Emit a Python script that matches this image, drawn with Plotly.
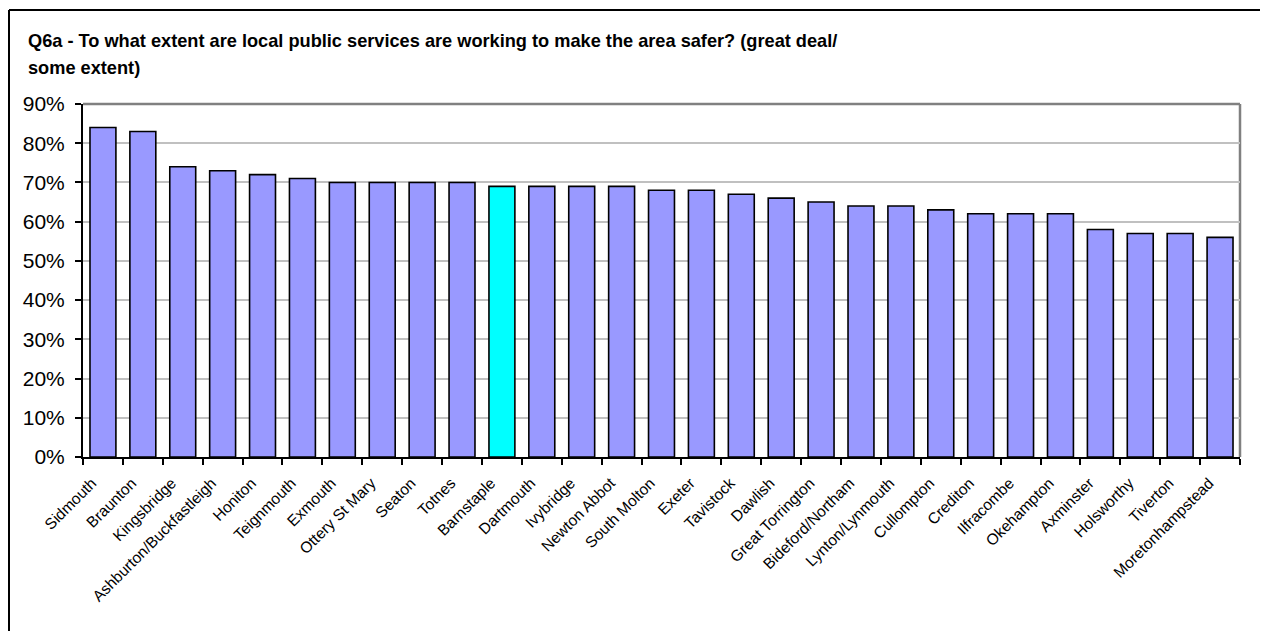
import plotly.graph_objects as go

categories = ["Sidmouth", "Braunton", "Kingsbridge", "Ashburton/Buckfastleigh", "Honiton",
              "Teignmouth", "Exmouth", "Ottery St Mary", "Seaton", "Totnes", "Barnstaple",
              "Dartmouth", "Ivybridge", "Newton Abbot", "South Molton", "Exeter", "Tavistock",
              "Dawlish", "Great Torrington", "Bideford/Northam", "Lynton/Lynmouth", "Cullompton",
              "Crediton", "Ilfracombe", "Okehampton", "Axminster", "Holsworthy", "Tiverton",
              "Moretonhampstead"]
values = [0.84, 0.83, 0.74, 0.73, 0.72, 0.71, 0.70, 0.70, 0.70, 0.70, 0.69,
          0.69, 0.69, 0.69, 0.68, 0.68, 0.67, 0.66, 0.65, 0.64, 0.64, 0.63,
          0.62, 0.62, 0.62, 0.58, 0.57, 0.57, 0.56]
highlight = "Barnstaple"
y_ticks = [0, 0.1, 0.2, 0.3, 0.4, 0.5, 0.6, 0.7, 0.8, 0.9]
title_line1 = "Q6a - To what extent are local public services are working to make the area safer? (great deal/"
title_line2 = "some extent)"

colors = ["#00FFFF" if c == highlight else "#9999FF" for c in categories]

FONT = "Liberation Sans, Arial, sans-serif"
OFF = 8  # page body margin
W, H = 1268 - OFF, 631 - OFF
# target screen coordinates of the plot area
L, R, T, B = 83, 1240, 104, 457
pw, ph = R - L, B - T

def px_x(x):
    return (x - L) / pw

def px_y(y):
    return (B - y) / ph

fig = go.Figure(go.Bar(
    x=categories, y=values,
    marker=dict(color=colors, line=dict(color="black", width=1.6)),
    width=0.65,
))

fig.update_layout(
    width=W, height=H,
    margin=dict(l=L - OFF, r=W - (R - OFF), t=T - OFF, b=H - (B - OFF), pad=0),
    paper_bgcolor="white", plot_bgcolor="white",
    showlegend=False,
    font=dict(family=FONT, color="black"),
)

fig.update_xaxes(
    type="category",
    tickangle=-45,
    tickfont=dict(size=15.5, family=FONT, color="black"),
    showline=True, linecolor="black", linewidth=2,
    ticks="outside", tickson="boundaries", ticklen=6, tickwidth=2, tickcolor="black",
    ticklabelshift=-11, ticklabelstandoff=9,
    showgrid=False,
    range=[-0.5, len(categories) - 0.5],
)
fig.update_yaxes(
    range=[0, 0.9],
    tickvals=y_ticks,
    tickformat=".0%",
    tickfont=dict(size=21, family=FONT, color="black"),
    showline=True, linecolor="black", linewidth=2,
    ticks="outside", ticklen=6, tickwidth=2, tickcolor="black",
    ticklabelstandoff=6,
    showgrid=True, gridcolor="#C0C0C0", gridwidth=2,
    zeroline=False,
)

shapes = [
    dict(type="line", xref="paper", yref="paper", x0=0, x1=1, y0=1, y1=1,
         line=dict(color="#808080", width=2.5), layer="below"),
    dict(type="line", xref="paper", yref="paper", x0=1, x1=1, y0=0, y1=1,
         line=dict(color="#808080", width=2.5), layer="below"),
    dict(type="line", xref="paper", yref="paper", x0=px_x(9), x1=px_x(9), y0=px_y(10), y1=px_y(700),
         line=dict(color="black", width=2)),
    dict(type="line", xref="paper", yref="paper", x0=px_x(9), x1=px_x(1300), y0=px_y(10), y1=px_y(10),
         line=dict(color="black", width=2)),
]

annotations = [
    dict(text="<b>" + title_line1 + "</b>", xref="paper", yref="paper",
         x=px_x(26), y=px_y(41), xanchor="left", yanchor="middle", showarrow=False,
         font=dict(size=18.2, family=FONT, color="black")),
    dict(text="<b>" + title_line2 + "</b>", xref="paper", yref="paper",
         x=px_x(26), y=px_y(68), xanchor="left", yanchor="middle", showarrow=False,
         font=dict(size=18.2, family=FONT, color="black")),
]

fig.update_layout(shapes=shapes, annotations=annotations)

fig.write_html("out.html")
